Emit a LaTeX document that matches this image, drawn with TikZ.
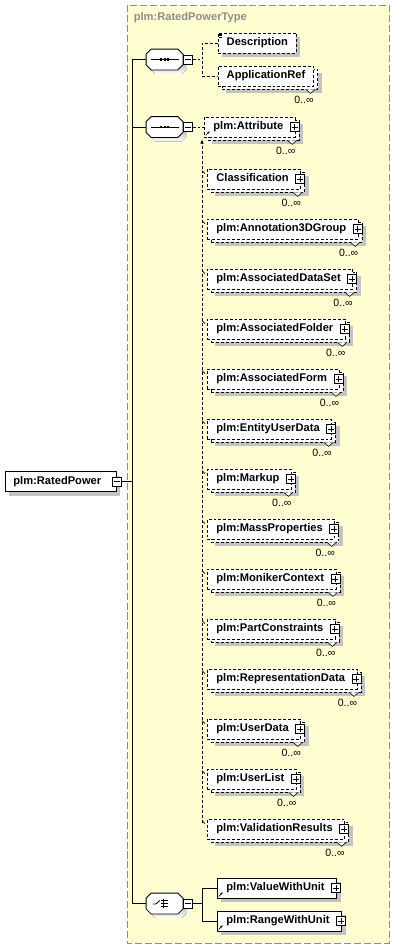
\documentclass[tikz,border=0pt]{standalone}
\usepackage{fontspec}
\setsansfont{Liberation Sans}
\usepackage{xcolor}
\usepackage{tikz}
\usetikzlibrary{shadows,arrows.meta}

\definecolor{typefill}{HTML}{FFFFD2}
\definecolor{typeline}{HTML}{8C8C8C}
\definecolor{shade}{HTML}{C3C3C3}

\begin{document}
\begin{tikzpicture}[
  x=0.03cm, y=-0.03cm, line width=0.7pt,
  box/.style={draw, rectangle, anchor=west, fill=white, minimum height=0.6cm,
    inner xsep=0.27cm, inner ysep=0pt, text height=7pt, text depth=2pt,
    font=\sffamily\bfseries\fontsize{9.5}{11}\selectfont},
  single/.style={box, drop shadow={shadow xshift=0.12cm, shadow yshift=-0.12cm, fill=shade, opacity=1}},
  opt/.style={single, dash pattern=on 2.5pt off 1.7pt},
  multi/.style={box, dash pattern=on 2.5pt off 1.7pt,
    drop shadow={shadow xshift=0.24cm, shadow yshift=-0.21cm, fill=shade, opacity=1},
    copy shadow={shadow xshift=0.12cm, shadow yshift=-0.09cm, draw=black, fill=white,
      dash pattern=on 2.5pt off 1.7pt, opacity=1},
    label={[mult]south east:0..∞}},
  mult/.style={anchor=north east, inner sep=0pt, yshift=-0.27cm,
    font=\sffamily\fontsize{9}{10}\selectfont},
  withplus/.style={execute at end node={\hspace{0.09cm}}},
  pm/.style={draw, solid, fill=white, rectangle, minimum size=0.27cm, inner sep=0pt, line width=0.6pt},
  minus/.style={pm, path picture={
    \draw ([xshift=-0.09cm]path picture bounding box.center) -- ([xshift=0.09cm]path picture bounding box.center);}},
  plus/.style={pm, path picture={
    \draw ([xshift=-0.09cm]path picture bounding box.center) -- ([xshift=0.09cm]path picture bounding box.center);
    \draw ([yshift=-0.09cm]path picture bounding box.center) -- ([yshift=0.09cm]path picture bounding box.center);}},
  comp/.style={rectangle, minimum width=1.08cm, minimum height=0.6cm, inner sep=0pt},
  optconn/.style={dash pattern=on 2.5pt off 1.7pt}
]
  \useasboundingbox (0,0) rectangle (395,949);

  % complex type frame
  \draw[typeline, fill=typefill, line width=0.85pt, dash pattern=on 6pt off 2.5pt] (127,5) rectangle (389,943);
  \node[anchor=west, text=typeline, font=\sffamily\bfseries\fontsize{9.5}{11}\selectfont] (title) at (129.5,18) {plm:RatedPowerType};

  % root element
  \node[single, inner xsep=0.24cm, execute at end node={\hspace{0.21cm}}] (root) at (5,481.5) {plm:RatedPower};
  \node[minus] (rootm) at (root.east) {};

  % compositors
  \node[comp] (seqa) at (164.5,59.5) {};
  \node[comp] (seqb) at (164.5,127) {};
  \node[comp] (choice) at (164.5,903.5) {};
  \foreach \n in {seqa,seqb,choice} {
    \fill[shade, transform canvas={shift={(0.12cm,-0.12cm)}}]
      ([xshift=0.15cm]\n.north west) -- ([xshift=-0.15cm]\n.north east) -- ([yshift=-0.15cm]\n.north east)
      -- ([yshift=0.15cm]\n.south east) -- ([xshift=-0.15cm]\n.south east) -- ([xshift=0.15cm]\n.south west)
      -- ([yshift=0.15cm]\n.south west) -- ([yshift=-0.15cm]\n.north west) -- cycle;
    \draw[fill=white]
      ([xshift=0.15cm]\n.north west) -- ([xshift=-0.15cm]\n.north east) -- ([yshift=-0.15cm]\n.north east)
      -- ([yshift=0.15cm]\n.south east) -- ([xshift=-0.15cm]\n.south east) -- ([xshift=0.15cm]\n.south west)
      -- ([yshift=0.15cm]\n.south west) -- ([yshift=-0.15cm]\n.north west) -- cycle;
  }
  % sequence and choice symbols
  \foreach \n in {seqa,seqb} {
    \draw ([xshift=-0.42cm]\n.center) -- ([xshift=0.42cm]\n.center);
    \foreach \d in {-0.1,0,0.1}
      \fill ([shift={(\d cm-0.03cm,-0.04cm)}]\n.center) rectangle ++(0.06cm,0.08cm);
  }
  \draw ([shift={(-0.35cm,-0.015cm)}]choice.center) -- ++(0.09cm,0cm) -- ++(0.12cm,0.105cm);
  \draw ([shift={(-0.045cm,0.135cm)}]choice.center) -- ++(0cm,-0.27cm);
  \foreach \d in {0.09,0,-0.09} {
    \draw ([shift={(-0.045cm,\d cm)}]choice.center) -- ++(0.15cm,0cm);
    \fill ([shift={(-0.11cm,\d cm-0.025cm)}]choice.center) rectangle ++(0.06cm,0.05cm);
  }
  \node[minus, anchor=west] (seqam) at (seqa.east) {};
  \node[minus, anchor=west] (seqbm) at (seqb.east) {};
  \node[minus, anchor=west] (choicem) at (choice.east) {};

  % child elements
  \node[opt, inner xsep=0.25cm] (desc) at (218,43) {Description};
  \node[multi, inner xsep=0.25cm] (appref) at (218,76) {ApplicationRef};
  \node[multi, withplus] (attr) at (204,127) {plm:Attribute};
  \node[multi, withplus] (cls) at (207,179) {Classification};
  \node[multi, withplus] (ann) at (207,229) {plm:Annotation3DGroup};
  \node[multi, withplus] (ads) at (207,279) {plm:AssociatedDataSet};
  \node[multi, withplus] (afo) at (207,329) {plm:AssociatedFolder};
  \node[multi, withplus] (afm) at (207,379) {plm:AssociatedForm};
  \node[multi, withplus] (eud) at (207,429) {plm:EntityUserData};
  \node[multi, withplus] (mkp) at (207,479) {plm:Markup};
  \node[multi, withplus] (mas) at (207,529) {plm:MassProperties};
  \node[multi, withplus] (mon) at (207,579) {plm:MonikerContext};
  \node[multi, withplus] (pcs) at (207,629) {plm:PartConstraints};
  \node[multi, withplus] (rep) at (207,679) {plm:RepresentationData};
  \node[multi, withplus] (usd) at (207,729) {plm:UserData};
  \node[multi, withplus] (usl) at (207,779) {plm:UserList};
  \node[multi, withplus] (val) at (207,829) {plm:ValidationResults};
  \node[single, withplus] (vw) at (217,888) {plm:ValueWithUnit};
  \node[single, withplus] (rw) at (217,921) {plm:RangeWithUnit};

  \foreach \n in {attr,cls,ann,ads,afo,afm,eud,mkp,mas,mon,pcs,rep,usd,usl,val,vw,rw}
    \node[plus] (\n-p) at ([xshift=-0.03cm]\n.east) {};

  % multiplicity notches
  \foreach \n in {appref,attr,cls,ann,ads,afo,afm,eud,mkp,mas,mon,pcs,rep,usd,usl,val}
    \draw[line width=0.5pt, fill=white] ([shift={(-0.24cm,-0.09cm)}]\n.south east)
      -- ([shift={(-0.105cm,-0.21cm)}]\n.south east) -- ([shift={(0.03cm,-0.09cm)}]\n.south east);

  % small marks
  \foreach \k in {1,2,3}
    \draw[line width=0.4pt] ([shift={(0.03cm,-\k*0.045cm)}]desc.north west) -- ++(0.1cm,0cm);
  \foreach \n in {attr,vw,rw}
    \draw[line width=0.5pt, -{Stealth[length=2.2pt,width=2.2pt]}] ([shift={(0.05cm,0.06cm)}]\n.south west) -- ++(0.12cm,0.12cm);
  \foreach \n in {cls,ann,ads,afo,afm,eud,mkp,mas,mon,pcs,rep,usd,usl,val}
    \draw[line width=0.5pt] ([shift={(-0.15cm,-0.06cm)}]\n.north west) -- ([shift={(-0.06cm,-0.15cm)}]\n.north west);

  % connectors
  \coordinate (bus) at (132,0);
  \coordinate (fork) at (202,0);
  \coordinate (vtail) at (202,823);
  \draw (rootm.east) -- (rootm.east -| bus);
  \draw (seqa.west) -- (seqa.west -| bus) -- (choice.west -| bus) -- (choice.west);
  \draw (seqb.west) -- (seqb.west -| bus);
  \draw[optconn] (seqam.east) -- (seqam.east -| fork);
  \draw[optconn] (desc.west) -- (desc.west -| fork) -- (appref.west -| fork) -- (appref.west);
  \draw[optconn] (seqbm.east) -- (attr.west);
  \draw[optconn, -{Latex[length=3.5pt,width=3pt]}] (vtail) -- ([yshift=-0.06cm]attr.south -| vtail);
  \draw (choicem.east) -- (choicem.east -| fork);
  \draw (vw.west) -- (vw.west -| fork) -- (rw.west -| fork) -- (rw.west);
\end{tikzpicture}
\end{document}
